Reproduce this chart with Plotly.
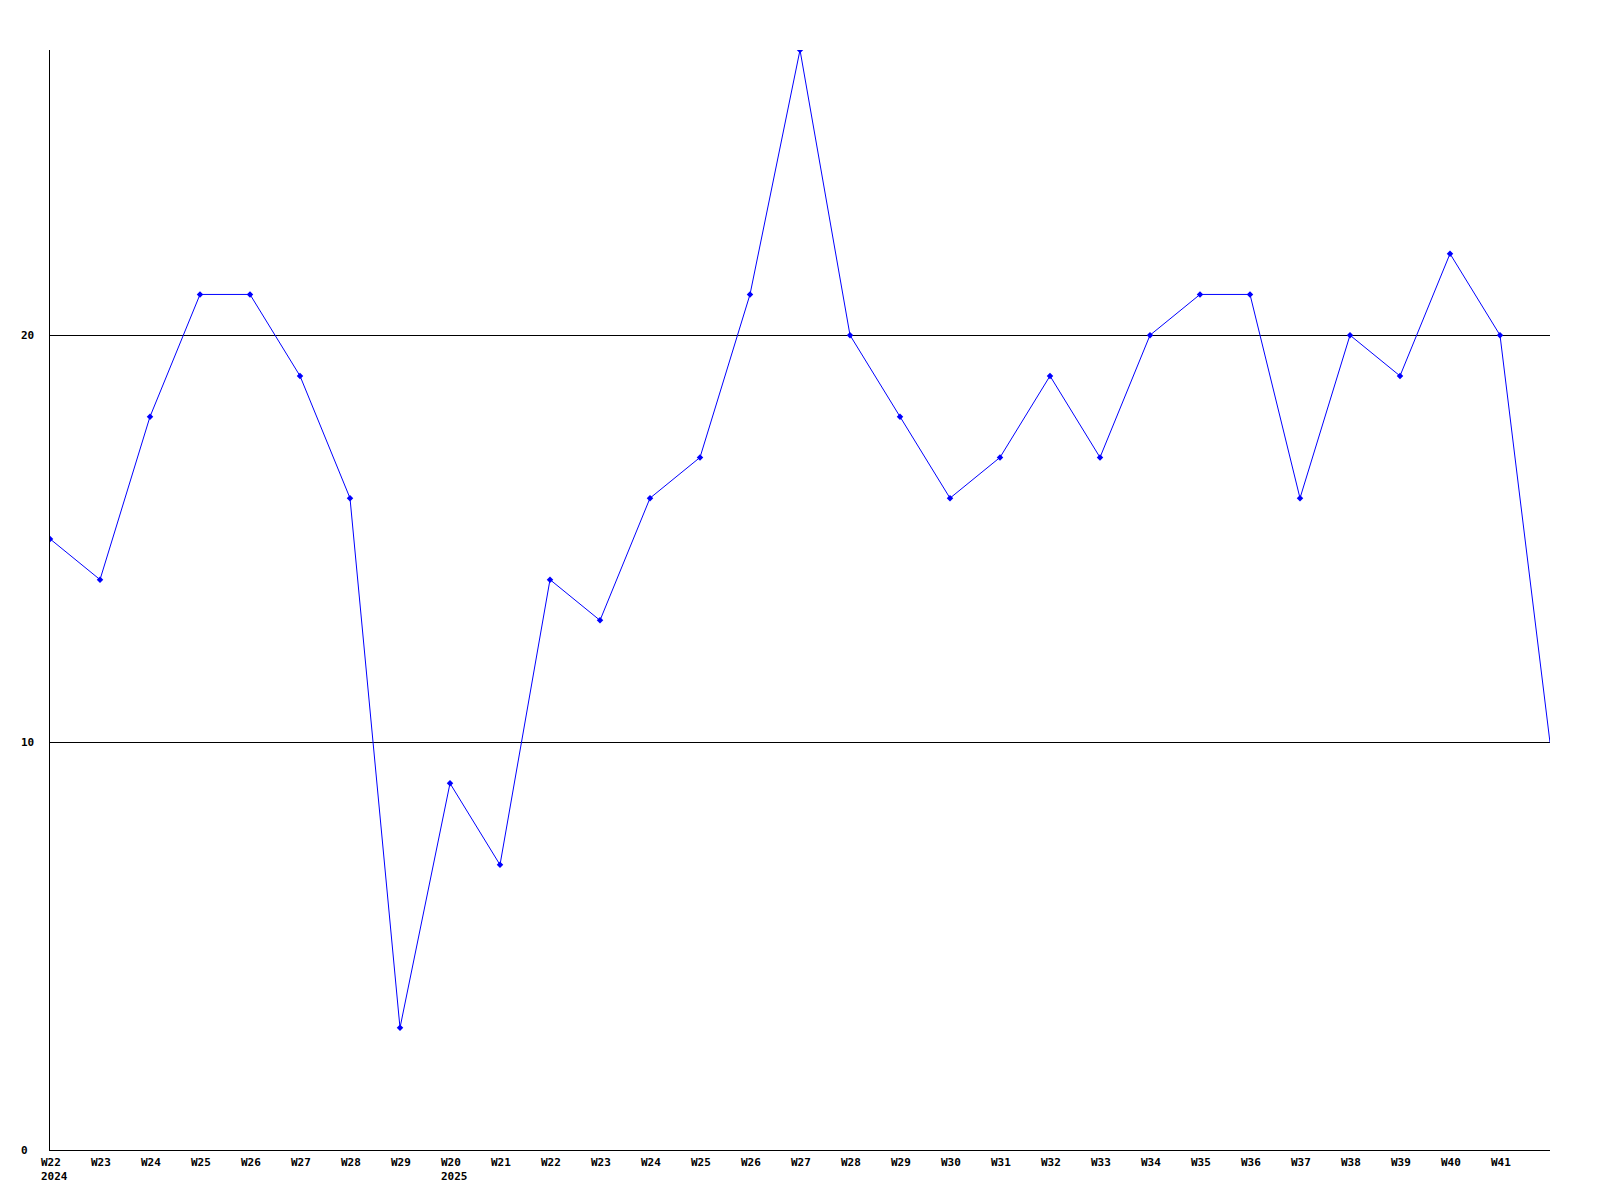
import plotly.graph_objects as go

week_labels = ["W22", "W23", "W24", "W25", "W26", "W27", "W28", "W29",
               "W20", "W21", "W22", "W23", "W24", "W25", "W26", "W27",
               "W28", "W29", "W30", "W31", "W32", "W33", "W34", "W35",
               "W36", "W37", "W38", "W39", "W40", "W41", ""]
year_labels = {0: "2024", 8: "2025"}
values = [15, 14, 18, 21, 21, 19, 16, 3,
          9, 7, 14, 13, 16, 17, 21, 27,
          20, 18, 16, 17, 19, 17, 20, 21,
          21, 16, 20, 19, 22, 20, 10]
y_ticks = [0, 10, 20]

x = list(range(len(values)))
marker_x = x[:-1]
marker_y = values[:-1]

font = dict(family="DejaVu Sans Mono", size=11, color="black")

fig = go.Figure()
fig.add_trace(go.Scatter(x=x, y=values, mode="lines",
                         line=dict(color="#0000FF", width=1), hoverinfo="skip"))
fig.add_trace(go.Scatter(x=marker_x, y=marker_y, mode="markers",
                         marker=dict(color="#0000FF", size=5, symbol="diamond"),
                         hoverinfo="skip"))

annotations = []
for i, lab in enumerate(week_labels):
    if not lab:
        continue
    text = "<b>" + lab + "</b>"
    if i in year_labels:
        text += "<br><b>" + year_labels[i] + "</b>"
    annotations.append(dict(x=i, y=0, xref="x", yref="y", text=text,
                            showarrow=False, xanchor="left", yanchor="top",
                            align="left", xshift=-11, yshift=-4, font=font))
for v in y_ticks:
    annotations.append(dict(x=0, y=v, xref="x", yref="y", text="<b>%d</b>" % v,
                            showarrow=False, xanchor="left", yanchor="middle",
                            xshift=-31, font=font))

fig.update_layout(
    width=1600, height=1200,
    margin=dict(l=42, r=58, t=42, b=58),
    paper_bgcolor="white", plot_bgcolor="white",
    showlegend=False,
    annotations=annotations,
    xaxis=dict(range=[0, len(values) - 1], showgrid=False, zeroline=False,
               showline=True, linecolor="black", linewidth=1,
               showticklabels=False, ticks=""),
    yaxis=dict(range=[0, 27], tickvals=y_ticks, showgrid=True,
               gridcolor="black", gridwidth=1, zeroline=False,
               showline=True, linecolor="black", linewidth=1,
               showticklabels=False, ticks=""),
)

fig.write_html("out.html")
